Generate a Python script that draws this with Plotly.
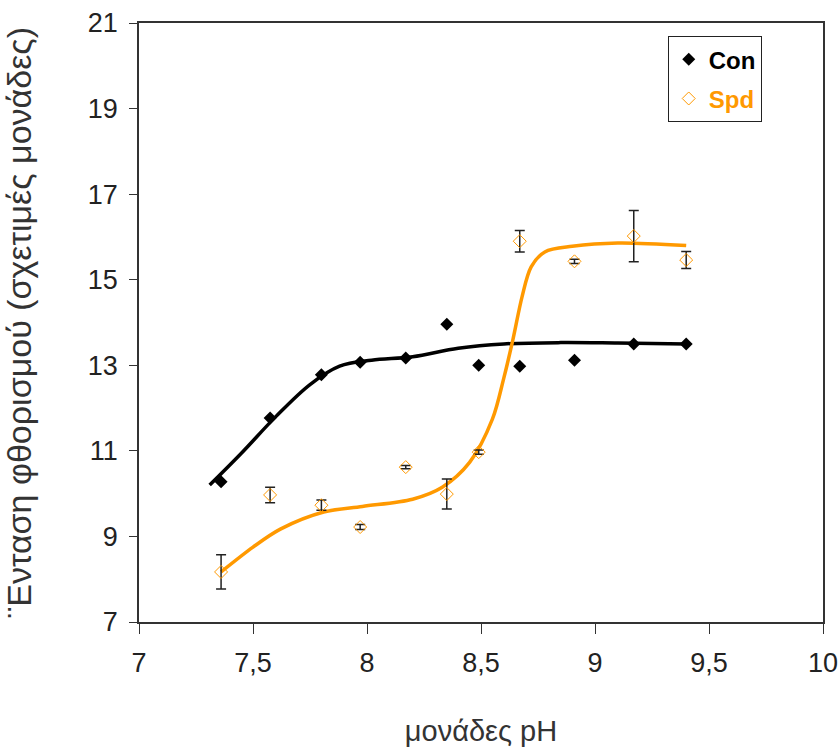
import plotly.graph_objects as go

# measured points
ph = [7.36, 7.575, 7.80, 7.97, 8.17, 8.35, 8.49, 8.67, 8.91, 9.17, 9.40]
con = [10.28, 11.77, 12.78, 13.07, 13.17, 13.96, 13.00, 12.98, 13.12, 13.50, 13.50]
spd = [8.17, 9.97, 9.73, 9.22, 10.62, 9.99, 10.97, 15.90, 15.43, 16.02, 15.46]
spd_err = [0.40, 0.18, 0.12, 0.06, 0.04, 0.35, 0.05, 0.25, 0.05, 0.60, 0.20]

# trend curves
con_fit_x = [7.31, 7.45, 7.60, 7.75, 7.88, 8.02, 8.20, 8.40, 8.60, 8.85, 9.10, 9.40]
con_fit_y = [10.20, 10.95, 11.80, 12.55, 12.98, 13.12, 13.20, 13.40, 13.50, 13.53, 13.52, 13.50]
spd_fit_x = [7.36, 7.50, 7.62, 7.81, 7.98, 8.20, 8.33, 8.45, 8.55, 8.60, 8.64, 8.68, 8.72, 8.78, 8.90, 9.10, 9.40]
spd_fit_y = [8.17, 8.75, 9.17, 9.57, 9.70, 9.87, 10.15, 10.73, 11.74, 12.70, 13.60, 14.60, 15.30, 15.65, 15.78, 15.86, 15.80]

x_ticks = [7, 7.5, 8, 8.5, 9, 9.5, 10]
y_ticks = [7, 9, 11, 13, 15, 17, 19, 21]

ORANGE = "#FF9900"
FONT = "Liberation Sans, Arial, sans-serif"

fig = go.Figure()
fig.add_trace(go.Scatter(x=con_fit_x, y=con_fit_y, mode="lines", line=dict(color="black", width=3.5, shape="spline", smoothing=1.0), showlegend=False, hoverinfo="skip"))
fig.add_trace(go.Scatter(x=spd_fit_x, y=spd_fit_y, mode="lines", line=dict(color=ORANGE, width=3.5, shape="spline", smoothing=0.9), showlegend=False, hoverinfo="skip"))
fig.add_trace(go.Scatter(x=ph, y=con, mode="markers", name="Con", legendgroup="a",
                         marker=dict(symbol="diamond", size=10, color="black")))
fig.add_trace(go.Scatter(x=ph, y=spd, mode="markers", name="<span style='color:#FF9900'>Spd</span>", legendgroup="b",
                         marker=dict(symbol="diamond-open", size=10, color=ORANGE, line=dict(width=1, color=ORANGE)),
                         error_y=dict(type="data", array=spd_err, visible=True, color="#222222", thickness=1.5, width=5)))

fig.update_layout(
    width=839, height=754,
    margin=dict(l=139, r=16, t=23, b=132),
    paper_bgcolor="white", plot_bgcolor="white",
    separators=",.",
    font=dict(family=FONT, size=27, color="#222222"),
    showlegend=True,
    legend=dict(x=0.773, y=0.978, xanchor="left", yanchor="top",
                bordercolor="#222222", borderwidth=1, bgcolor="white",
                font=dict(family=FONT, size=24, color="black", weight="bold"),
                tracegroupgap=5),
)
fig.update_xaxes(range=[7, 10], tickvals=x_ticks, ticks="outside", ticklen=10, tickcolor="#333333",
                 showline=True, linecolor="#333333", linewidth=1.5, mirror=True, showgrid=False, zeroline=False,
                 automargin=False, ticklabelstandoff=6, ticklabeloverflow="allow",
                 title=dict(text="μονάδες pH", font=dict(size=29, color="#333333"), standoff=44))
fig.update_yaxes(range=[7, 21], tickvals=y_ticks, ticks="outside", ticklen=8, tickcolor="#333333",
                 showline=True, linecolor="#333333", linewidth=1.5, mirror=True, showgrid=False, zeroline=False,
                 automargin=False, ticklabelstandoff=6, ticklabeloverflow="allow",
                 title=dict(text="¨Ενταση φθορισμού (σχετιμές μονάδες)", font=dict(size=34, color="#333333"), standoff=52))

fig.write_html("out.html", config={"displayModeBar": False},
               post_script="document.body.style.margin='0';document.body.style.overflow='hidden';")
